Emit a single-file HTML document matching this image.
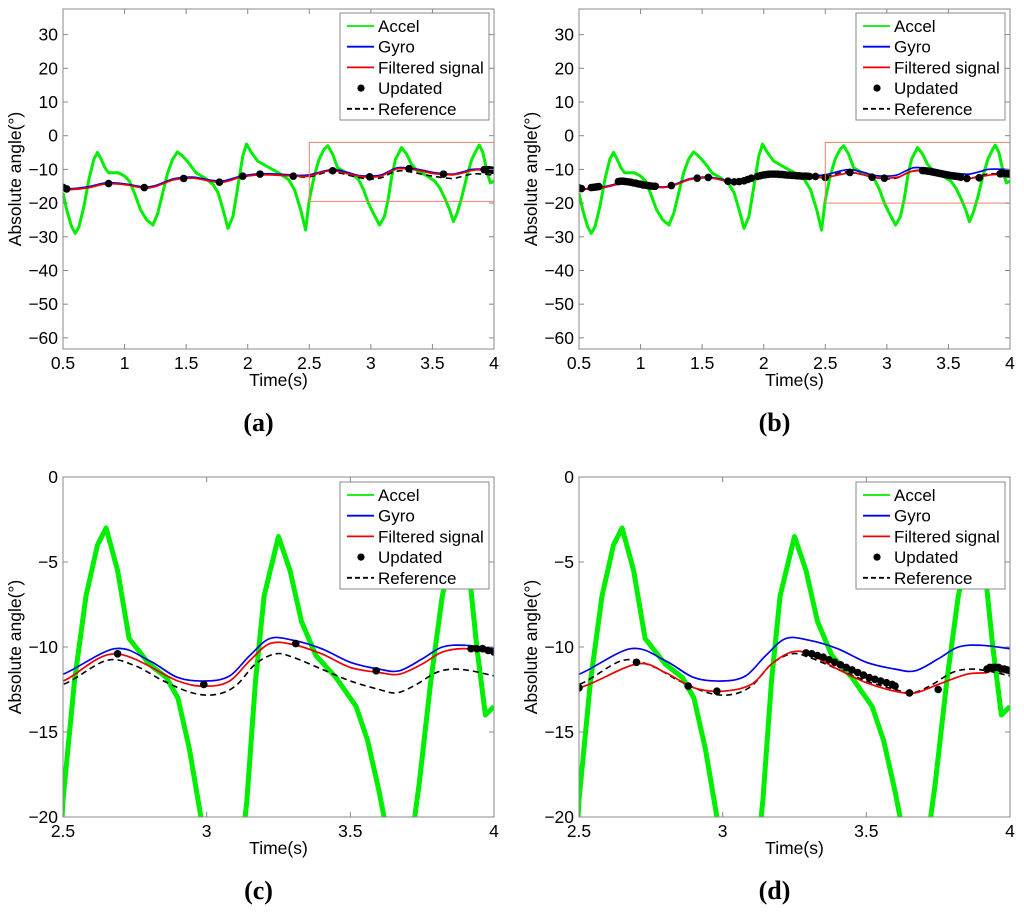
<!DOCTYPE html>
<html><head><meta charset="utf-8"><style>
body{margin:0;background:#fff;}
svg{display:block;font-family:"Liberation Sans",sans-serif;}
</style></head><body>
<svg id="fig" width="1024" height="915" viewBox="0 0 1024 915" xmlns="http://www.w3.org/2000/svg"></svg>
<script>
// ---- data ----
const accelT=[0.5,0.53,0.57,0.6,0.63,0.67,0.71,0.75,0.78,0.81,0.84,0.87,0.91,0.95,1.0,1.04,1.08,1.13,1.18,1.23,1.27,1.31,1.35,1.39,1.43,1.47,1.52,1.58,1.65,1.72,1.76,1.8,1.84,1.88,1.92,1.96,1.99,2.03,2.08,2.15,2.25,2.33,2.38,2.43,2.47,2.5,2.54,2.58,2.62,2.65,2.69,2.73,2.8,2.86,2.9,2.94,2.98,3.02,3.07,3.11,3.14,3.17,3.2,3.25,3.29,3.33,3.38,3.45,3.52,3.56,3.6,3.64,3.67,3.7,3.74,3.78,3.82,3.86,3.88,3.91,3.94,3.97,4.0];
const accelV=[-17,-22,-27,-29,-27,-21,-13,-7,-5,-7,-9.5,-11,-11,-11,-12,-13.5,-17,-22,-25,-26.5,-23,-17,-11,-7,-4.8,-6,-8,-11,-12.5,-14.5,-17,-22,-27.5,-24,-15,-6,-2.5,-5,-7.5,-9,-11,-13,-16,-22,-28,-19,-12,-7,-4,-3,-5.5,-9.5,-11,-11.8,-13,-16,-20,-23,-26.5,-24,-19,-12,-7,-3.5,-5.5,-8.5,-10.5,-11.8,-13.5,-15.5,-18.5,-22,-25.5,-23,-18,-12,-7,-4,-2.8,-5,-10,-14,-13.5];
const gyroT=[0.5,0.55,0.7,0.85,1.0,1.15,1.25,1.4,1.55,1.7,1.8,1.95,2.1,2.3,2.4,2.5,2.68,2.8,2.9,3.0,3.08,3.15,3.22,3.3,3.4,3.5,3.6,3.67,3.75,3.82,3.9,4.0];
const gyroV=[-15.5,-15.8,-15.2,-14.0,-14.3,-15.2,-14.8,-12.8,-12.3,-13.2,-13.4,-12.0,-11.3,-11.5,-11.8,-11.6,-10.1,-10.8,-11.8,-12.0,-11.7,-10.5,-9.5,-9.6,-10.1,-10.9,-11.3,-11.4,-10.7,-10.0,-9.9,-10.1];
const filtAT=[0.5,0.55,0.7,0.85,1.0,1.15,1.25,1.4,1.55,1.7,1.8,1.95,2.1,2.3,2.4,2.5,2.68,2.9,3.0,3.08,3.15,3.22,3.3,3.4,3.5,3.6,3.67,3.75,3.82,3.9,4.0];
const filtAV=[-15.7,-16.0,-15.5,-14.3,-14.5,-15.5,-15.1,-13.1,-12.6,-13.5,-13.8,-12.3,-11.6,-11.8,-12.0,-12.0,-10.4,-12.0,-12.3,-12.0,-10.8,-9.8,-9.85,-10.4,-11.2,-11.5,-11.6,-11.0,-10.3,-10.1,-10.4];
const refT=[0.5,0.55,0.7,0.85,1.0,1.15,1.25,1.4,1.55,1.7,1.8,1.95,2.1,2.3,2.4,2.5,2.65,2.75,2.85,2.95,3.03,3.1,3.17,3.24,3.3,3.4,3.5,3.6,3.66,3.72,3.8,3.86,3.92,4.0];
const refV=[-15.6,-15.9,-15.4,-14.2,-14.4,-15.3,-15.0,-13.0,-12.5,-13.4,-13.7,-12.2,-11.5,-11.8,-12.1,-12.2,-10.8,-11.1,-12.0,-12.7,-12.8,-12.3,-11.0,-10.4,-10.6,-11.3,-12.0,-12.5,-12.7,-12.3,-11.5,-11.3,-11.4,-11.7];
const filtBT=[0.5,0.55,0.7,0.85,1.0,1.15,1.25,1.4,1.55,1.7,1.8,1.95,2.1,2.3,2.4,2.5,2.7,2.8,2.9,3.0,3.1,3.17,3.24,3.3,3.4,3.5,3.6,3.67,3.75,3.85,3.92,3.95,4.0];
const filtBV=[-15.6,-15.9,-15.4,-14.2,-14.4,-15.3,-15.0,-13.0,-12.5,-13.4,-13.7,-12.2,-11.5,-11.8,-12.1,-12.4,-11.0,-11.5,-12.4,-12.6,-12.2,-11.0,-10.3,-10.4,-11.3,-12.1,-12.6,-12.7,-12.2,-11.6,-11.5,-11.2,-11.4];
const updAT=[0.5,0.53,0.87,1.16,1.48,1.77,1.96,2.1,2.37,2.69,2.99,3.31,3.59,3.92,3.94,3.96,3.98,4.0];
const updAV=[-15.3,-15.8,-14.2,-15.4,-12.7,-13.8,-12.0,-11.4,-12.0,-10.4,-12.2,-9.8,-11.4,-10.1,-10.1,-10.1,-10.2,-10.3];
const updBT=[0.5,0.52,0.6,0.62,0.64,0.66,0.82,0.84,0.86,0.88,0.9,0.92,0.94,0.96,0.98,1.0,1.02,1.04,1.06,1.08,1.1,1.12,1.25,1.46,1.55,1.71,1.76,1.8,1.84,1.87,1.9,1.95,1.97,1.99,2.01,2.03,2.05,2.07,2.09,2.11,2.13,2.15,2.17,2.19,2.21,2.23,2.25,2.27,2.29,2.31,2.33,2.35,2.37,2.42,2.5,2.7,2.88,2.98,3.29,3.31,3.33,3.35,3.37,3.39,3.41,3.43,3.45,3.47,3.49,3.51,3.53,3.55,3.57,3.59,3.6,3.65,3.75,3.92,3.93,3.94,3.95,3.96,3.97,3.98,3.99,4.0];
const updBV=[-15.5,-15.7,-15.4,-15.3,-15.2,-15.1,-13.6,-13.5,-13.5,-13.6,-13.7,-13.8,-14.0,-14.1,-14.3,-14.4,-14.6,-14.7,-14.8,-14.9,-15.0,-15.0,-14.8,-12.6,-12.4,-13.5,-13.7,-13.6,-13.4,-13.0,-12.6,-12.1,-11.9,-11.7,-11.6,-11.5,-11.4,-11.4,-11.4,-11.4,-11.5,-11.5,-11.6,-11.7,-11.7,-11.8,-11.8,-11.9,-11.9,-12.0,-12.0,-12.0,-12.1,-12.1,-12.4,-10.9,-12.3,-12.6,-10.35,-10.4,-10.5,-10.6,-10.75,-10.9,-11.05,-11.2,-11.35,-11.5,-11.65,-11.8,-11.9,-12.0,-12.1,-12.2,-12.3,-12.7,-12.5,-11.3,-11.2,-11.2,-11.2,-11.2,-11.3,-11.3,-11.35,-11.4];
const yTicksTop=[30,20,10,0,-10,-20,-30,-40,-50,-60];
const xTicksTop=[0.5,1,1.5,2,2.5,3,3.5,4];
const yTicksBot=[0,-5,-10,-15,-20];
const xTicksBot=[2.5,3,3.5,4];
const legendLabels=["Accel","Gyro","Filtered signal","Updated","Reference"];

const NS="http://www.w3.org/2000/svg";
const fig=document.getElementById('fig');
function mk(tag,attrs,parent){const e=document.createElementNS(NS,tag);for(const k in attrs)e.setAttribute(k,attrs[k]);(parent||fig).appendChild(e);return e;}
function smoothPath(pts){
  if(pts.length<2)return '';
  let d='M'+pts[0][0].toFixed(1)+','+pts[0][1].toFixed(1);
  for(let i=0;i<pts.length-1;i++){
    const p0=pts[Math.max(0,i-1)],p1=pts[i],p2=pts[i+1],p3=pts[Math.min(pts.length-1,i+2)];
    const c1x=p1[0]+(p2[0]-p0[0])/6,c1y=p1[1]+(p2[1]-p0[1])/6;
    const c2x=p2[0]-(p3[0]-p1[0])/6,c2y=p2[1]-(p3[1]-p1[1])/6;
    d+=' C'+c1x.toFixed(1)+','+c1y.toFixed(1)+' '+c2x.toFixed(1)+','+c2y.toFixed(1)+' '+p2[0].toFixed(1)+','+p2[1].toFixed(1);
  }
  return d;
}
function linePath(pts){return pts.map((p,i)=>(i?'L':'M')+p[0].toFixed(1)+','+p[1].toFixed(1)).join(' ');}
function panel(id,cfg){
  const g=mk('g',{});
  
  
  const {x0,x1,y0,y1,xmin,xmax,ymin,ymax}=cfg;
  const sx=v=>x0+(v-xmin)/(xmax-xmin)*(x1-x0);
  const sy=v=>y1-(v-ymin)/(ymax-ymin)*(y1-y0);
  const cid='clip-'+id;
  const cp=mk('clipPath',{id:cid},g);mk('rect',{x:x0,y:y0,width:x1-x0,height:y1-y0},cp);
  const plot=mk('g',{'clip-path':'url(#'+cid+')'},g);
  
  
  function series(T,V,color,w,name,dash,linear){
    const pts=[];for(let i=0;i<T.length;i++)if(T[i]>=xmin-0.1&&T[i]<=xmax+0.1)pts.push([sx(T[i]),sy(V[i])]);
    const p=mk('path',{d:linear?linePath(pts):smoothPath(pts),fill:'none',stroke:color,'stroke-width':w,'stroke-linejoin':'round'},plot);
    if(dash)p.setAttribute('stroke-dasharray',dash);
    
    
  }
  series(accelT,accelV,'#00ee00',cfg.aw,'accel',null,true);
  series(refT,refV,'#000',1.6,'reference','6,4');
  series(gyroT,gyroV,'#0000ee',1.7,'gyro');
  series(cfg.fT,cfg.fV,'#ee0000',1.7,'filtered');
  for(let i=0;i<cfg.uT.length;i++){
    if(cfg.uT[i]<xmin-0.01)continue;
    const c=mk('circle',{cx:sx(cfg.uT[i]),cy:sy(cfg.uV[i]),r:3.8,fill:'#000'},plot);
    
    
  }
  if(cfg.zoomBox){
    const zb=cfg.zoomBox;
    const r=mk('rect',{x:sx(zb[0]),y:sy(zb[3]),width:sx(zb[1])-sx(zb[0]),height:sy(zb[2])-sy(zb[3]),fill:'none',stroke:'#f08070','stroke-width':1},g);
    
    
  }
  const box=mk('rect',{x:x0,y:y0,width:x1-x0,height:y1-y0,fill:'none',stroke:'#888','stroke-width':1},g);
  
  
  cfg.yt.forEach(v=>{
    const y=sy(v);
    mk('line',{x1:x0,x2:x0+5,y1:y,y2:y,stroke:'#888'},g);mk('line',{x1:x1,x2:x1-5,y1:y,y2:y,stroke:'#888'},g);
    const t=mk('text',{x:x0-5,y:y+6,'text-anchor':'end','font-size':17.5},g);t.textContent=String(v).replace('-','\u2212');
    
    
  });
  cfg.xt.forEach(v=>{
    const x=sx(v);
    mk('line',{x1:x,x2:x,y1:y1,y2:y1-5,stroke:'#888'},g);mk('line',{x1:x,x2:x,y1:y0,y2:y0+5,stroke:'#888'},g);
    const t=mk('text',{x:x,y:y1+20,'text-anchor':'middle','font-size':17.5},g);t.textContent=String(v);
    
    
  });
  const xl=mk('text',{x:(x0+x1)/2,y:y1+37,'text-anchor':'middle','font-size':17.5},g);xl.textContent='Time(s)';
  
  
  const yl=mk('text',{x:0,y:0,'text-anchor':'middle','font-size':17.5,transform:'translate('+(x0-42)+','+((y0+y1)/2)+') rotate(-90)'},g);yl.textContent='Absolute angle(°)';
  
  
  const lg=mk('g',{},g);
  
  
  const lx=x0+277,ly=cfg.ly;
  mk('rect',{x:lx,y:ly,width:149,height:107,fill:'#fff',stroke:'#888'},lg);
  const cols=['#00ee00','#0000ee','#ee0000',null,'#000'];
  legendLabels.forEach((lab,i)=>{
    const yy=ly+13+i*20.7;
    if(i===3){mk('circle',{cx:lx+21,cy:yy,r:3.6,fill:'#000'},lg);}
    else{const l=mk('line',{x1:lx+7,x2:lx+34,y1:yy,y2:yy,stroke:cols[i],'stroke-width':1.8},lg);if(i===4)l.setAttribute('stroke-dasharray','5,3');}
    const t=mk('text',{x:lx+38,y:yy+6,'font-size':17},lg);t.textContent=lab;
    
    
  });
  const cap=mk('text',{x:(x0+x1)/2-20,y:cfg.capY,'text-anchor':'middle','font-size':26,'font-weight':'bold','font-family':'Liberation Serif, serif'},g);
  cap.textContent='('+id+')';
  
  
}
const topCfg={y0:9,y1:349,xmin:0.5,xmax:4,ymin:-63.3,ymax:37.6,yt:yTicksTop,xt:xTicksTop,aw:3,ly:13,capY:431};
const botCfg={y0:477,y1:817,xmin:2.5,xmax:4,ymin:-20,ymax:0,yt:yTicksBot,xt:xTicksBot,aw:5,ly:482,capY:899};
panel('a',Object.assign({},topCfg,{x0:63,x1:494,fT:filtAT,fV:filtAV,uT:updAT,uV:updAV,zoomBox:[2.5,4,-19.5,-2]}));
panel('b',Object.assign({},topCfg,{x0:579,x1:1010,fT:filtBT,fV:filtBV,uT:updBT,uV:updBV,zoomBox:[2.5,4,-20,-2]}));
panel('c',Object.assign({},botCfg,{x0:63,x1:494,fT:filtAT,fV:filtAV,uT:updAT,uV:updAV}));
panel('d',Object.assign({},botCfg,{x0:579,x1:1010,fT:filtBT,fV:filtBV,uT:updBT,uV:updBV}));
</script>
</body></html>
